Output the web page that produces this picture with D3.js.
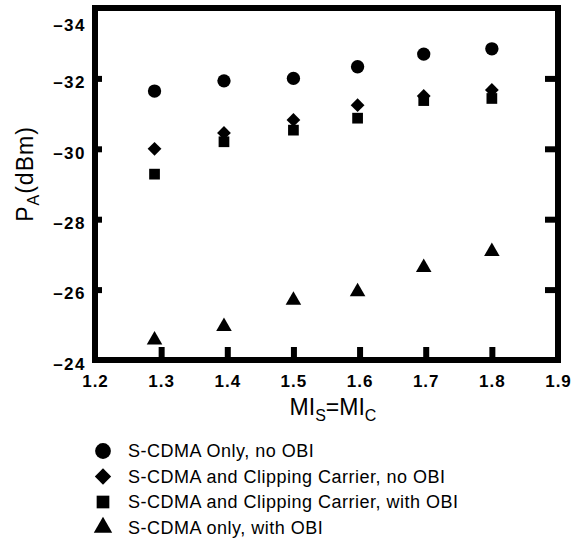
<!DOCTYPE html>
<html>
<head>
<meta charset="utf-8">
<script src="https://cdn.jsdelivr.net/npm/d3@7"></script>
<style>
  body { margin: 0; background: #fff; }
  svg { display: block; }
  .tick-lbl text { font-family: "Liberation Sans", Arial, sans-serif; font-weight: bold; font-size: 17px; fill: #000; }
  .title { font-family: "Liberation Sans", Arial, sans-serif; fill: #000; }
  .legend text { font-family: "Liberation Sans", Arial, sans-serif; font-size: 18px; fill: #000; }
</style>
</head>
<body>
<div id="chart"></div>
<script>
// data
const xValues = [1.29, 1.395, 1.5, 1.597, 1.697, 1.8];
const onlyNoObi = [-31.64, -31.93, -32.0, -32.33, -32.69, -32.84];
const clipNoObi = [-30.0, -30.45, -30.82, -31.24, -31.5, -31.67];
const clipWithObi = [-29.28, -30.2, -30.53, -30.87, -31.37, -31.43];
const onlyWithObi = [-24.57, -24.95, -25.7, -25.94, -26.63, -27.08];

const seriesNames = [
  'S-CDMA Only, no OBI',
  'S-CDMA and Clipping Carrier, no OBI',
  'S-CDMA and Clipping Carrier, with OBI',
  'S-CDMA only, with OBI'
];
const xTickLabels = [1.2, 1.3, 1.4, 1.5, 1.6, 1.7, 1.8, 1.9];
const yTickLabels = [-34, -32, -30, -28, -26, -24];

const width = 575;
const height = 544;
const margin = { left: 95, right: 17, top: 8, bottom: 184 };

const svg = d3.select('#chart').append('svg')
  .attr('width', width)
  .attr('height', height);

const x = d3.scaleLinear()
  .domain([1.2, 1.9])
  .range([margin.left, width - margin.right]);

const y = d3.scaleLinear()
  .domain([-24, -34])
  .range([height - margin.bottom, margin.top]);

// tick marks (inward)
svg.append('g')
  .attr('transform', `translate(${margin.left},0)`)
  .call(d3.axisLeft(y).tickValues([-32, -30, -28, -26]).tickSize(-7).tickFormat(''))
  .call(g => g.select('.domain').remove())
  .call(g => g.selectAll('line').attr('stroke', '#000').attr('stroke-width', 6));

svg.append('g')
  .attr('transform', `translate(${width - margin.right},0)`)
  .call(d3.axisRight(y).tickValues([-32, -30, -28, -26]).tickSize(-13).tickFormat(''))
  .call(g => g.select('.domain').remove())
  .call(g => g.selectAll('line').attr('stroke', '#000').attr('stroke-width', 6));

svg.append('g')
  .attr('transform', `translate(0,${height - margin.bottom})`)
  .call(d3.axisBottom(x).tickValues([1.3, 1.4, 1.5, 1.6, 1.7, 1.8]).tickSize(-13).tickFormat(''))
  .call(g => g.select('.domain').remove())
  .call(g => g.selectAll('line').attr('stroke', '#000').attr('stroke-width', 6));

// frame
svg.append('rect')
  .attr('x', margin.left)
  .attr('y', margin.top)
  .attr('width', width - margin.left - margin.right)
  .attr('height', height - margin.top - margin.bottom)
  .attr('fill', 'none')
  .attr('stroke', '#000')
  .attr('stroke-width', 6);

// tick labels
svg.append('g')
  .attr('class', 'tick-lbl')
  .attr('transform', `translate(${margin.left - 9},0)`)
  .call(d3.axisLeft(y).tickValues(yTickLabels).tickSize(0).tickPadding(0)
    .tickFormat(d => String(d).replace('-', '\u2013')))
  .call(g => g.select('.domain').remove())
  .call(g => g.selectAll('text')
    .attr('letter-spacing', 1.5)
    .attr('dy', d => d === -34 ? '1.3em' : '0.55em'));

svg.append('g')
  .attr('class', 'tick-lbl')
  .attr('transform', `translate(0,${height - margin.bottom})`)
  .call(d3.axisBottom(x).tickValues(xTickLabels).tickSize(0).tickPadding(15)
    .tickFormat(d3.format('.1f')))
  .call(g => g.select('.domain').remove())
  .call(g => g.selectAll('text').attr('letter-spacing', 1));

// axis titles
const xt = svg.append('text')
  .attr('class', 'title')
  .attr('x', 333)
  .attr('y', 415)
  .attr('text-anchor', 'middle')
  .style('font-size', '23px');
xt.append('tspan').text('MI');
xt.append('tspan').attr('dy', 6).style('font-size', '16px').text('S');
xt.append('tspan').attr('dy', -6).text('=MI');
xt.append('tspan').attr('dy', 6).style('font-size', '16px').text('C');

const yt = svg.append('text')
  .attr('class', 'title')
  .attr('transform', 'translate(33,174) rotate(-90)')
  .attr('text-anchor', 'middle')
  .attr('letter-spacing', 1)
  .style('font-size', '23px');
yt.append('tspan').text('P');
yt.append('tspan').attr('dy', 6).style('font-size', '16px').text('A');
yt.append('tspan').attr('dy', -6).text('(dBm)');

// markers
const symbols = [
  { type: d3.symbolCircle, size: 140, rotate: 0 },
  { type: d3.symbolSquare, size: 95, rotate: 45 },
  { type: d3.symbolSquare, size: 115, rotate: 0 },
  { type: d3.symbolTriangle, size: 105, rotate: 0 }
];
const allSeries = [onlyNoObi, clipNoObi, clipWithObi, onlyWithObi];

allSeries.forEach((vals, si) => {
  const sym = symbols[si];
  svg.append('g')
    .selectAll('path')
    .data(vals)
    .join('path')
    .attr('d', d3.symbol().type(sym.type).size(sym.size))
    .attr('transform', (d, i) => `translate(${x(xValues[i])},${y(d)}) rotate(${sym.rotate})`)
    .attr('fill', '#000');
});

// legend
const legend = svg.append('g')
  .attr('class', 'legend')
  .attr('transform', 'translate(103,451)');

const rows = legend.selectAll('g')
  .data(seriesNames)
  .join('g')
  .attr('transform', (d, i) => `translate(0,${i * 25.5})`);

rows.append('path')
  .attr('d', (d, i) => d3.symbol().type(symbols[i].type).size(symbols[i].size * 1.4)())
  .attr('transform', (d, i) => `rotate(${symbols[i].rotate})`)
  .attr('fill', '#000');

rows.append('text')
  .attr('x', 25)
  .attr('dy', '0.35em')
  .attr('letter-spacing', 0.5)
  .text(d => d);
</script>
</body>
</html>
